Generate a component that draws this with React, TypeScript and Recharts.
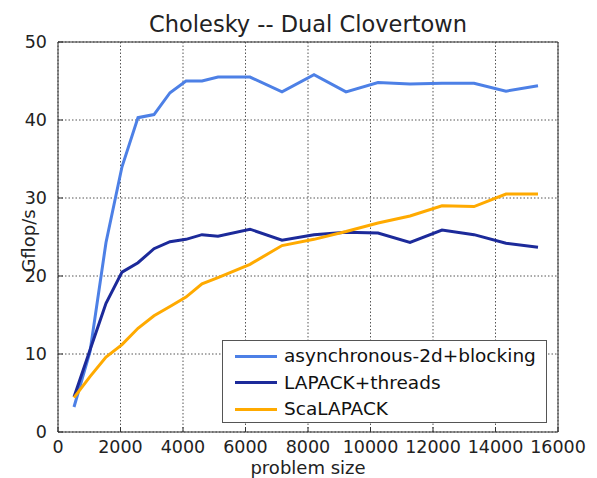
import { LineChart, Line, XAxis, YAxis, CartesianGrid, Legend, Label } from 'recharts';

const sizes = [
  512, 1024, 1536, 2048, 2560, 3072, 3584, 4096, 4608, 5120,
  6144, 7168, 8192, 9216, 10240, 11264, 12288, 13312, 14336, 15360,
];
const asyncBlocking = [
  3.2, 10.3, 24.3, 34.0, 40.3, 40.7, 43.5, 45.0, 45.0, 45.5,
  45.5, 43.6, 45.8, 43.6, 44.8, 44.6, 44.7, 44.7, 43.7, 44.4,
];
const lapackThreads = [
  4.5, 10.5, 16.5, 20.5, 21.7, 23.5, 24.4, 24.7, 25.3, 25.1,
  26.0, 24.6, 25.3, 25.6, 25.5, 24.3, 25.9, 25.3, 24.2, 23.7,
];
const scalapack = [
  4.4, 7.1, 9.6, 11.2, 13.3, 14.9, 16.1, 17.3, 19.0, 19.8,
  21.5, 23.9, 24.7, 25.7, 26.8, 27.7, 29.0, 28.9, 30.5, 30.5,
];

const xTicks = [0, 2000, 4000, 6000, 8000, 10000, 12000, 14000, 16000];
const yTicks = [0, 10, 20, 30, 40, 50];

// the last series is drawn against the top/right axes so those frame sides get rendered
const series = [
  { key: 'async', name: 'asynchronous-2d+blocking', color: '#4d80e6', xId: 0, yId: 0 },
  { key: 'lapack', name: 'LAPACK+threads', color: '#1c2a9a', xId: 0, yId: 0 },
  { key: 'scalapack', name: 'ScaLAPACK', color: '#ffaa00', xId: 'top', yId: 'right' },
];

const data = sizes.map((size, i) => ({
  size,
  async: asyncBlocking[i],
  lapack: lapackThreads[i],
  scalapack: scalapack[i],
}));

const font = 'DejaVu Sans, sans-serif';
const frame = '#333';

function LegendBox() {
  return (
    <div
      style={{
        width: 325,
        height: 83,
        border: '1px solid #555',
        background: '#fff',
        fontFamily: font,
        fontSize: 18.5,
        color: '#111',
        boxSizing: 'border-box',
        paddingTop: 2,
      }}
    >
      {series.map((s) => (
        <div key={s.key} style={{ display: 'flex', alignItems: 'center', height: 26.5 }}>
          <div style={{ marginLeft: 12, width: 42, height: 3, background: s.color }} />
          <span style={{ marginLeft: 7, lineHeight: '26px' }}>{s.name}</span>
        </div>
      ))}
    </div>
  );
}

export default function App() {
  return (
    <LineChart
      width={589}
      height={470}
      data={data}
      margin={{ top: 33, right: 38, bottom: 0, left: 0 }}
      style={{ fontFamily: font }}
    >
      <CartesianGrid stroke="#555" strokeDasharray="1.5 2" />
      <XAxis
        dataKey="size"
        type="number"
        domain={[0, 16000]}
        ticks={xTicks}
        height={46}
        tickSize={-5}
        tickMargin={14}
        stroke={frame}
        tick={{ fill: '#222', fontSize: 17.5 }}
        interval={0}
      >
        <Label
          content={() => (
            <text x={300} y={466} textAnchor="middle" fontSize={18} fill="#222" fontFamily={font}>
              problem size
            </text>
          )}
        />
      </XAxis>
      <XAxis
        xAxisId="top"
        dataKey="size"
        orientation="top"
        type="number"
        domain={[0, 16000]}
        ticks={xTicks}
        height={1}
        tickSize={-5}
        tick={false}
        stroke={frame}
        interval={0}
      >
        <Label
          content={() => (
            <text x={300} y={24} textAnchor="middle" fontSize={22.5} fill="#222" fontFamily={font}>
              Cholesky -- Dual Clovertown
            </text>
          )}
        />
      </XAxis>
      <YAxis
        type="number"
        domain={[0, 50]}
        ticks={yTicks}
        width={50}
        tickSize={-5}
        tickMargin={16}
        stroke={frame}
        tick={{ fill: '#222', fontSize: 17.5 }}
        interval={0}
      >
        <Label
          content={() => (
            <text
              x={20}
              y={233}
              transform="rotate(-90 20 233)"
              textAnchor="middle"
              dominantBaseline="central"
              fontSize={18}
              fill="#222"
              fontFamily={font}
            >
              Gflop/s
            </text>
          )}
        />
      </YAxis>
      <YAxis
        yAxisId="right"
        orientation="right"
        type="number"
        domain={[0, 50]}
        ticks={yTicks}
        width={1}
        tickSize={-5}
        tick={false}
        stroke={frame}
        interval={0}
      />
      {series.map((s) => (
        <Line
          key={s.key}
          dataKey={s.key}
          name={s.name}
          xAxisId={s.xId}
          yAxisId={s.yId}
          type="linear"
          stroke={s.color}
          strokeWidth={3}
          dot={false}
          isAnimationActive={false}
        />
      ))}
      <Legend
        layout="horizontal"
        verticalAlign="middle"
        align="center"
        content={() => <LegendBox />}
        wrapperStyle={{ position: 'absolute', left: 214, top: 332, width: 325, height: 83 }}
      />
    </LineChart>
  );
}
